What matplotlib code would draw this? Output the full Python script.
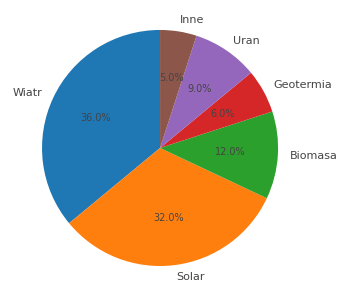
import matplotlib
matplotlib.use("Agg")
import matplotlib.pyplot as plt

labels = ["Wiatr", "Solar", "Biomasa", "Geotermia", "Uran", "Inne"]
values = [36, 32, 12, 6, 9, 5]
colors = ["#1f77b4", "#ff7f0e", "#2ca02c", "#d62728", "#9467bd", "#8c564b"]

fig = plt.figure(figsize=(3.53, 3.02), dpi=100)
ax = fig.add_axes([0.0354, 0.0215, 0.836, 0.977])
wedges, texts, autotexts = ax.pie(values, labels=labels, colors=colors, autopct="%1.1f%%",
                                  startangle=90, textprops={"color": "#444444"})
for t in texts:
    t.set_fontsize(8)
for t in autotexts:
    t.set_fontsize(7)
ax.set_aspect("equal")
fig.savefig("out.png", dpi=100)
